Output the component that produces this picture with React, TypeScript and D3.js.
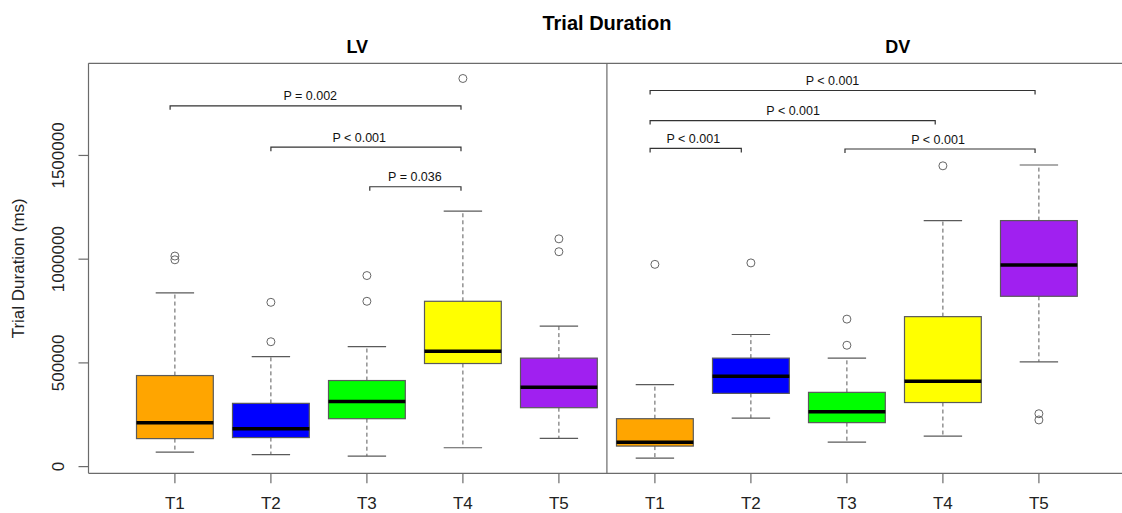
import React from "react";
import * as d3 from "d3";

const categories = ["T1", "T2", "T3", "T4", "T5"];
const groups = ["LV", "DV"];
const boxColors = ["#FFA500", "#0000FF", "#00FF00", "#FFFF00", "#A020F0"];

// LV
const lvLowWhisker = [70000, 58000, 51000, 91000, 136000];
const lvQ1 = [135000, 140000, 231000, 497000, 284000];
const lvMedian = [212000, 183000, 314000, 556000, 383000];
const lvQ3 = [439000, 305000, 415000, 797000, 523000];
const lvHighWhisker = [838000, 530000, 578000, 1232000, 677000];
const lvOutliers = [[1015000, 997000], [792000, 602000], [921000, 797000], [1871000], [1098000, 1036000]];

// DV
const dvLowWhisker = [41000, 234000, 118000, 147000, 505000];
const dvQ1 = [99000, 353000, 212000, 309000, 821000];
const dvMedian = [118000, 436000, 265000, 412000, 972000];
const dvQ3 = [231000, 523000, 358000, 723000, 1186000];
const dvHighWhisker = [395000, 637000, 523000, 1186000, 1454000];
const dvOutliers = [[975000], [982000], [711000, 585000], [1450000], [255000, 225000]];

const yTicks = [0, 500000, 1000000, 1500000];

// significance brackets (positions on the 1..10 box axis)
const bracketFrom = [0.95, 2.0, 3.03, 5.95, 5.95, 5.95, 7.98];
const bracketTo = [3.98, 3.98, 3.98, 9.96, 8.92, 6.9, 9.96];
const bracketY = [1739000, 1540000, 1349000, 1813000, 1668000, 1534000, 1531000];
const bracketLabels = ["P = 0.002", "P < 0.001", "P = 0.036", "P < 0.001", "P < 0.001", "P < 0.001", "P < 0.001"];
const bracketLabelPos = [2.41, 2.92, 3.5, 7.85, 7.44, 6.4, 8.95];

const groupLabelPos = [2.9, 8.53];

const W = 1122;
const H = 513;
const FONT = "'Liberation Sans', Arial, Helvetica, sans-serif";

export default function App() {
  const groupData = [
    { lo: lvLowWhisker, q1: lvQ1, med: lvMedian, q3: lvQ3, hi: lvHighWhisker, out: lvOutliers },
    { lo: dvLowWhisker, q1: dvQ1, med: dvMedian, q3: dvQ3, hi: dvHighWhisker, out: dvOutliers },
  ];
  const boxes: any[] = [];
  groupData.forEach((g, gi) => {
    categories.forEach((c, ci) => {
      boxes.push({
        pos: gi * categories.length + ci + 1,
        cat: c,
        color: boxColors[ci],
        lo: g.lo[ci], q1: g.q1[ci], med: g.med[ci], q3: g.q3[ci], hi: g.hi[ci],
        out: g.out[ci],
      });
    });
  });

  const allVals: number[] = [];
  boxes.forEach((b) => { allVals.push(b.lo, b.hi, ...b.out); });
  const vMin = d3.min(allVals) as number;
  const vMax = d3.max(allVals) as number;
  const pad = (vMax - vMin) * 0.04;

  const top = 63.3, bottom = 473.3, left = 88.5;
  const y = d3.scaleLinear().domain([vMin - pad, vMax + pad]).range([bottom, top]);
  const x = d3.scaleLinear().domain([0.1, 10.9]).range([left, 1125.3]);
  const bw = x(1.8) - x(1); // box width 0.8
  const capW = bw / 2;

  const frameColor = "#6b6b6b";
  const boxStroke = "#5a5a5a";
  const dividerX = x(5.5);

  return (
    <svg width={W} height={H} style={{ position: "absolute", left: 0, top: 0, background: "#fff" }} fontFamily={FONT}>
      <rect x={0} y={0} width={W} height={H} fill="#fff" />
      {/* title */}
      <text x={dividerX} y={30} textAnchor="middle" fontSize={20} fontWeight="bold">Trial Duration</text>
      {groups.map((g, i) => (
        <text key={g} x={x(groupLabelPos[i])} y={53} textAnchor="middle" fontSize={18} fontWeight="bold">{g}</text>
      ))}

      {/* frame */}
      <line x1={left} x2={W + 5} y1={top} y2={top} stroke={frameColor} strokeWidth={1.2} />
      <line x1={left} x2={W + 5} y1={bottom} y2={bottom} stroke={frameColor} strokeWidth={1.2} />
      <line x1={left} x2={left} y1={top} y2={bottom} stroke={frameColor} strokeWidth={1.2} />
      <line x1={dividerX} x2={dividerX} y1={top} y2={bottom} stroke={frameColor} strokeWidth={1.2} />

      {/* y axis */}
      {yTicks.map((t) => (
        <g key={t}>
          <line x1={left - 10} x2={left} y1={y(t)} y2={y(t)} stroke={frameColor} strokeWidth={1.2} />
          <text transform={`translate(${64},${y(t)}) rotate(-90)`} textAnchor="middle" fontSize={17} fill="#222">{String(t)}</text>
        </g>
      ))}
      <text transform={`translate(${24},${(top + bottom) / 2}) rotate(-90)`} textAnchor="middle" fontSize={17} fill="#222">Trial Duration (ms)</text>

      {/* x axis ticks */}
      {boxes.map((b) => (
        <g key={"xt" + b.pos}>
          <line x1={x(b.pos)} x2={x(b.pos)} y1={bottom} y2={bottom + 10} stroke={frameColor} strokeWidth={1.2} />
          <text x={x(b.pos)} y={508.5} textAnchor="middle" fontSize={17} fill="#222">{b.cat}</text>
        </g>
      ))}

      {/* boxes */}
      {boxes.map((b) => {
        const cx = x(b.pos);
        return (
          <g key={"b" + b.pos}>
            <line x1={cx} x2={cx} y1={y(b.q3)} y2={y(b.hi)} stroke={boxStroke} strokeDasharray="4,3" />
            <line x1={cx} x2={cx} y1={y(b.q1)} y2={y(b.lo)} stroke={boxStroke} strokeDasharray="4,3" />
            <line x1={cx - capW / 2} x2={cx + capW / 2} y1={y(b.hi)} y2={y(b.hi)} stroke={boxStroke} strokeWidth={1.2} />
            <line x1={cx - capW / 2} x2={cx + capW / 2} y1={y(b.lo)} y2={y(b.lo)} stroke={boxStroke} strokeWidth={1.2} />
            <rect x={cx - bw / 2} y={y(b.q3)} width={bw} height={y(b.q1) - y(b.q3)} fill={b.color} stroke={boxStroke} strokeWidth={1.2} />
            <line x1={cx - bw / 2} x2={cx + bw / 2} y1={y(b.med)} y2={y(b.med)} stroke="#000" strokeWidth={3.5} />
            {b.out.map((o: number, k: number) => (
              <circle key={k} cx={cx} cy={y(o)} r={4} fill="none" stroke="#666" strokeWidth={1} />
            ))}
          </g>
        );
      })}

      {/* brackets */}
      {bracketLabels.map((lab, i) => {
        const yy = y(bracketY[i]);
        const x1 = x(bracketFrom[i]);
        const x2 = x(bracketTo[i]);
        return (
          <g key={"br" + i}>
            <path d={`M${x1},${yy + 4}V${yy}H${x2}V${yy + 4}`} fill="none" stroke="#333" strokeWidth={1.2} />
            <text x={x(bracketLabelPos[i])} y={yy - 5.5} textAnchor="middle" fontSize={12.5} fill="#111">{lab}</text>
          </g>
        );
      })}
    </svg>
  );
}
